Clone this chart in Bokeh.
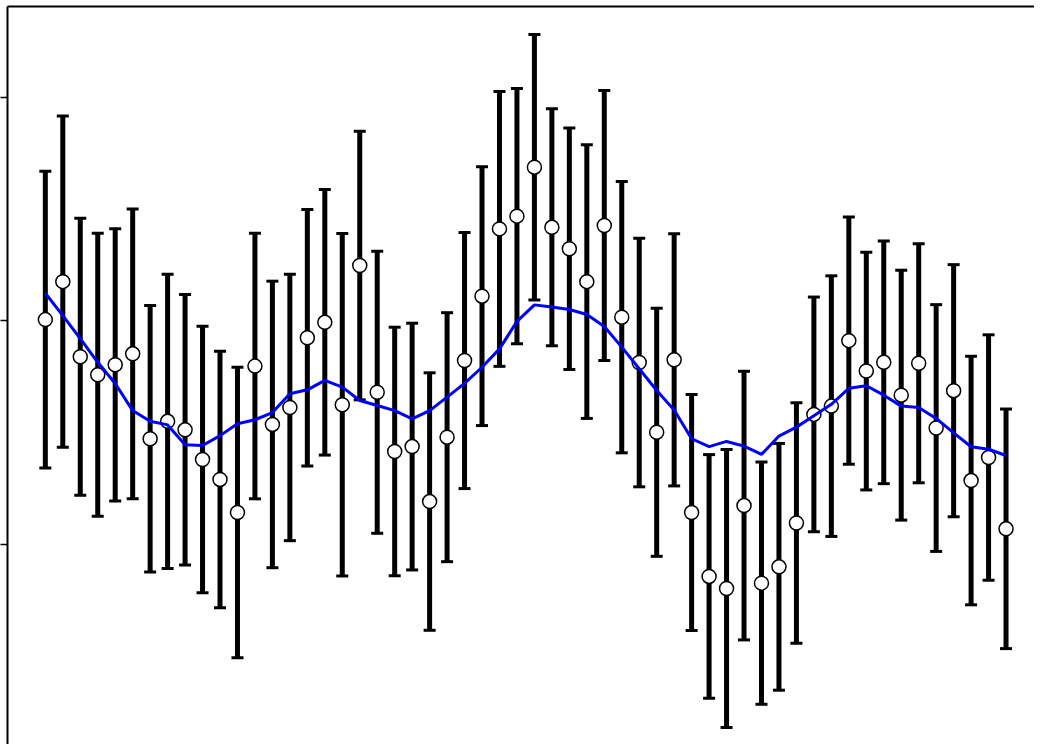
from bokeh.plotting import figure
from bokeh.models import ColumnDataSource, Whisker, TeeHead, FixedTicker, Range1d
from bokeh.embed import file_html
from bokeh.resources import INLINE

# ---- data ----
obs = [0.004, 0.174, -0.162, -0.243, -0.198, -0.149, -0.529, -0.451, -0.489, -0.622,
       -0.711, -0.859, -0.204, -0.465, -0.389, -0.077, -0.008, -0.377, 0.246, -0.321,
       -0.586, -0.564, -0.810, -0.522, -0.179, 0.109, 0.410, 0.467, 0.686, 0.417,
       0.321, 0.174, 0.425, 0.015, -0.188, -0.500, -0.176, -0.859, -1.145, -1.199,
       -0.828, -1.175, -1.102, -0.906, -0.420, -0.383, -0.090, -0.226, -0.187, -0.334,
       -0.191, -0.481, -0.314, -0.716, -0.613, -0.932]
err = [0.664, 0.741, 0.620, 0.633, 0.609, 0.648, 0.596, 0.658, 0.605, 0.596,
       0.574, 0.650, 0.594, 0.641, 0.596, 0.574, 0.594, 0.766, 0.601, 0.631,
       0.556, 0.552, 0.576, 0.557, 0.573, 0.579, 0.615, 0.571, 0.594, 0.530,
       0.540, 0.612, 0.604, 0.607, 0.556, 0.555, 0.564, 0.528, 0.545, 0.622,
       0.601, 0.542, 0.552, 0.538, 0.525, 0.583, 0.553, 0.532, 0.543, 0.559,
       0.535, 0.552, 0.564, 0.556, 0.549, 0.536]
smooth = [0.122, 0.022, -0.081, -0.187, -0.282, -0.403, -0.451, -0.467, -0.556, -0.559,
          -0.515, -0.462, -0.444, -0.412, -0.328, -0.310, -0.268, -0.298, -0.358, -0.380,
          -0.403, -0.440, -0.403, -0.343, -0.281, -0.209, -0.127, -0.004, 0.070, 0.060,
          0.049, 0.027, -0.027, -0.119, -0.216, -0.313, -0.400, -0.529, -0.564, -0.541,
          -0.562, -0.599, -0.517, -0.477, -0.426, -0.375, -0.303, -0.292, -0.334, -0.383,
          -0.389, -0.438, -0.503, -0.565, -0.576, -0.604]
xs = list(range(len(obs)))
y_ticks = [-1, 0, 1]

src = ColumnDataSource(dict(
    x=xs, y=obs,
    upper=[o + e for o, e in zip(obs, err)],
    lower=[o - e for o, e in zip(obs, err)],
    s=smooth,
))

p = figure(width=1034, height=744, output_backend="svg", toolbar_location=None,
           x_axis_location="above", min_border=0, min_border_top=6,
           x_range=Range1d(-2.166, 56.63), y_range=Range1d(-1.897, 1.405))
p.outline_line_color = None
p.grid.visible = False
p.background_fill_color = "white"

for ax in p.yaxis:
    ax.ticker = FixedTicker(ticks=y_ticks)
    ax.major_label_overrides = {t: "" for t in y_ticks}
    ax.major_tick_out = 7
    ax.major_tick_in = 0
    ax.minor_tick_out = 0
    ax.minor_tick_in = 0
    ax.major_label_standoff = 0
    ax.axis_line_width = 2
    ax.major_tick_line_width = 1.5
for ax in p.xaxis:
    ax.ticker = FixedTicker(ticks=[])
    ax.major_tick_out = 0
    ax.major_tick_in = 0
    ax.minor_tick_out = 0
    ax.minor_tick_in = 0
    ax.major_label_standoff = 0
    ax.axis_line_width = 2

w = Whisker(source=src, base="x", upper="upper", lower="lower",
            line_color="black", line_width=5, level="underlay",
            upper_head=TeeHead(size=12, line_width=3, line_color="black"),
            lower_head=TeeHead(size=12, line_width=3, line_color="black"))
p.add_layout(w)

p.scatter("x", "y", source=src, size=14, fill_color="white", line_color="black",
          line_width=1.5)
p.line("x", "s", source=src, line_color="#0000ff", line_width=3)

open("out.html", "w").write(file_html(p, INLINE))
